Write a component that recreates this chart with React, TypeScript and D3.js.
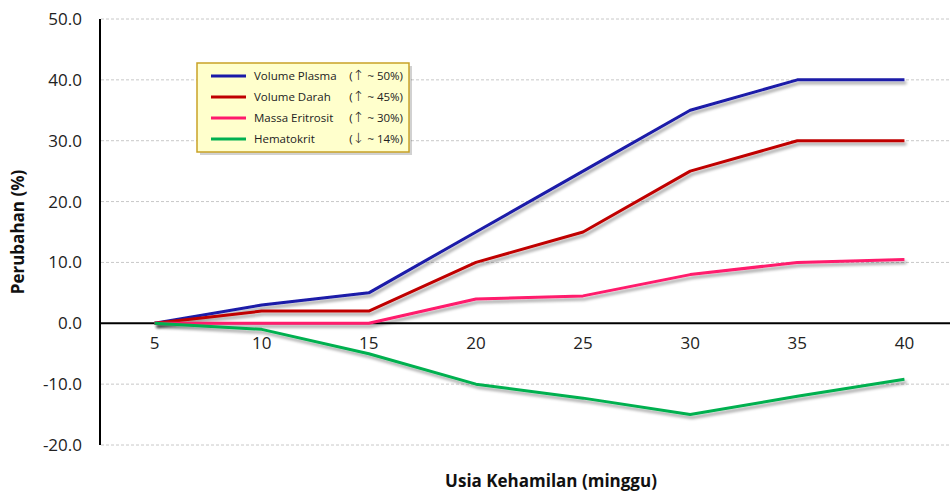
import * as d3 from 'd3';
import React from 'react';

const weeks = ['5', '10', '15', '20', '25', '30', '35', '40'];
const plasma = [0, 3, 5, 15, 25, 35, 40, 40];
const darah = [0, 2, 2, 10, 15, 25, 30, 30];
const eritrosit = [0, 0, 0, 4, 4.5, 8, 10, 10.5];
const hematokrit = [0, -1, -5, -10, -12.3, -15, -12, -9.2];
const yTicks = [50, 40, 30, 20, 10, 0, -10, -20];

const seriesNames = ['Volume Plasma', 'Volume Darah', 'Massa Eritrosit', 'Hematokrit'];
const seriesArrows = ['\u2191', '\u2191', '\u2191', '\u2193'];
const seriesNotes = ['~ 50%)', '~ 45%)', '~ 30%)', '~ 14%)'];
const seriesColors = ['#1a1aa8', '#c00000', '#ff1a6c', '#00b050'];

const W = 950;
const H = 493;
const font = "'Open Sans', 'Noto Sans', sans-serif";
// hyphen minus, like the original
const fmt = (v: number) => d3.format('.1f')(v).replace('\u2212', '-');

export default function App() {
  const left = 101;
  const right = 958;
  const x = d3.scaleBand().domain(weeks).range([left, right]);
  const y = d3.scaleLinear().domain([-20, 50]).range([445, 19]);
  const cx = (w: string) => (x(w) || 0) + x.bandwidth() / 2;

  const allSeries = [plasma, darah, eritrosit, hematokrit];
  const line = d3.line<number>()
    .x((_, i) => cx(weeks[i]))
    .y(d => y(d));

  return (
    <svg width={W} height={H} style={{position: 'absolute', left: 0, top: 0, background: '#fff'}}>
      <defs>
        <filter id="shadow" x="-10%" y="-10%" width="120%" height="140%">
          <feGaussianBlur in="SourceAlpha" stdDeviation="1.5" />
          <feOffset dx="2" dy="3" result="off" />
          <feComponentTransfer><feFuncA type="linear" slope="0.35" /></feComponentTransfer>
          <feMerge><feMergeNode /><feMergeNode in="SourceGraphic" /></feMerge>
        </filter>
      </defs>

      {/* gridlines */}
      {yTicks.filter(t => t !== 0).map(t => (
        <line key={t} x1={left} x2={W} y1={y(t)} y2={y(t)}
          stroke="#c8c8c8" strokeWidth={1} strokeDasharray="3,2" />
      ))}

      {/* y tick labels */}
      {yTicks.map(t => (
        <text key={'yl' + t} x={82} y={y(t)} dy="0.35em" textAnchor="end"
          fontFamily={font} fontSize={17} fill="#222">{fmt(t)}</text>
      ))}

      {/* axes */}
      <line x1={100} x2={100} y1={y(50)} y2={y(-20)} stroke="#000" strokeWidth={2} />
      <line x1={100} x2={W} y1={y(0)} y2={y(0)} stroke="#000" strokeWidth={2} />

      {/* x tick labels */}
      {weeks.map(w => (
        <text key={'xl' + w} x={cx(w)} y={y(0) + 26} textAnchor="middle"
          fontFamily={font} fontSize={17} fill="#222">{w}</text>
      ))}

      {/* series */}
      {allSeries.map((s, i) => (
        <path key={seriesNames[i]} d={line(s) || ''} fill="none" stroke={seriesColors[i]}
          strokeWidth={3} strokeLinejoin="round" filter="url(#shadow)" />
      ))}

      {/* axis titles */}
      <text transform={`translate(24,${y(15)}) rotate(-90)`} textAnchor="middle"
        fontFamily={font} fontSize={17} fontWeight="bold" fill="#111">Perubahan (%)</text>
      <text x={551} y={487} textAnchor="middle"
        fontFamily={font} fontSize={17} fontWeight="bold" fill="#111">Usia Kehamilan (minggu)</text>

      {/* legend */}
      <g transform="translate(197,63)">
        <rect x={3} y={3} width={212} height={89} fill="#000" opacity={0.18} />
        <rect x={0} y={0} width={212} height={89} fill="#ffffcc" stroke="#c9a227" strokeWidth={1.5} />
        {seriesNames.map((n, i) => {
          const ly = 13 + i * 21;
          return (
            <g key={'lg' + n}>
              <line x1={14} x2={49} y1={ly} y2={ly} stroke={seriesColors[i]} strokeWidth={3} />
              <text x={57} y={ly} dy="0.35em" fontFamily={font} fontSize={11.5} fill="#222">{n}</text>
              <text x={206} y={ly} dy="0.35em" textAnchor="end" fontFamily={font} fontSize={11.5} fill="#222">
                (<tspan fontFamily="'DejaVu Sans', sans-serif" fontSize={14} fontWeight={300}>{seriesArrows[i]}</tspan> {seriesNotes[i]}
              </text>
            </g>
          );
        })}
      </g>
    </svg>
  );
}
